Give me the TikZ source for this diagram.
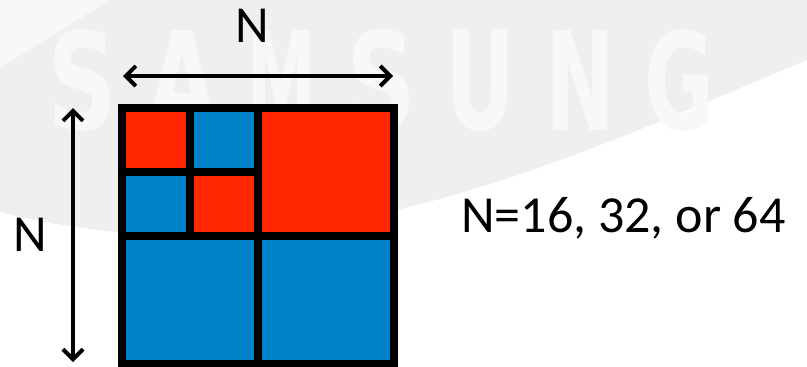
\documentclass[tikz,border=0pt]{standalone}
\usepackage{fontspec}
\setmainfont{Carlito}
\newfontfamily\wmfont{DejaVu Sans Bold}
\usetikzlibrary{arrows.meta}
\definecolor{qtred}{RGB}{255,38,0}
\definecolor{qtblue}{RGB}{0,130,202}
\definecolor{wmgray}{RGB}{239,239,239}
\definecolor{wmlight}{RGB}{248,248,248}
\tikzset{%
  cell/.style     = {shape=rectangle, draw=black, line width=8pt,%
                     inner sep=0pt, outer sep=0pt},%
  leaf/.style     = {cell, minimum width=68pt, minimum height=64pt},%
  leafbig/.style  = {cell, minimum width=136pt, minimum height=128pt},%
  sizearrow/.style = {line width=4pt,%
                     {Straight Barb[length=10pt,width=20pt]}-{Straight Barb[length=10pt,width=20pt]}},%
  lbl/.style      = {font=\fontsize{52}{62}\selectfont, inner sep=0pt},%
  wmletter/.style = {inner sep=0pt, text=wmlight}%
}
\begin{document}
\begin{tikzpicture}[x=1pt,y=-1pt]
	\useasboundingbox (0,0) rectangle (807,367);
	% watermark
	\fill[white] (0,0) rectangle (807,367);
	\fill[wmlight] (0,0) -- (110,0) -- (0,68) -- cycle;
	\fill[wmgray] (110,0) -- (807,0) -- (807,60)
		.. controls (550,167) and (300,287) .. (0,212) -- (0,68) -- cycle;
	\foreach \ch [count=\i from 0] in {S,A,M,S,U,N,G}
		\node[wmletter] (wm\i) at (83+99.5*\i,80)
			{\resizebox{70pt}{100pt}{\wmfont\ch}};
	% quadtree block
	\node[leafbig, fill=qtred]  (ne) at (326,172) {};
	\node[leafbig, fill=qtblue] (sw) at (190,300) {};
	\node[leafbig, fill=qtblue] (se) at (326,300) {};
	\node[leaf, fill=qtred]  (nwa) at (156,140) {};
	\node[leaf, fill=qtblue] (nwb) at (224,140) {};
	\node[leaf, fill=qtblue] (nwc) at (156,204) {};
	\node[leaf, fill=qtred]  (nwd) at (224,204) {};
	% sizes
	\coordinate (hl) at (123,76);
	\coordinate (hr) at (393,76);
	\coordinate (vt) at (73,108);
	\coordinate (vb) at (73,362);
	\draw[sizearrow] (hl) -- (hr);
	\draw[sizearrow] (vt) -- (vb);
	\node[lbl, anchor=base] (ntop) at (252,42) {N};
	\node[lbl, anchor=base] (nleft) at (30,251) {N};
	\node[lbl, anchor=base west] (nval) at (461,232) {N=16, 32, or 64};
\end{tikzpicture}
\end{document}
